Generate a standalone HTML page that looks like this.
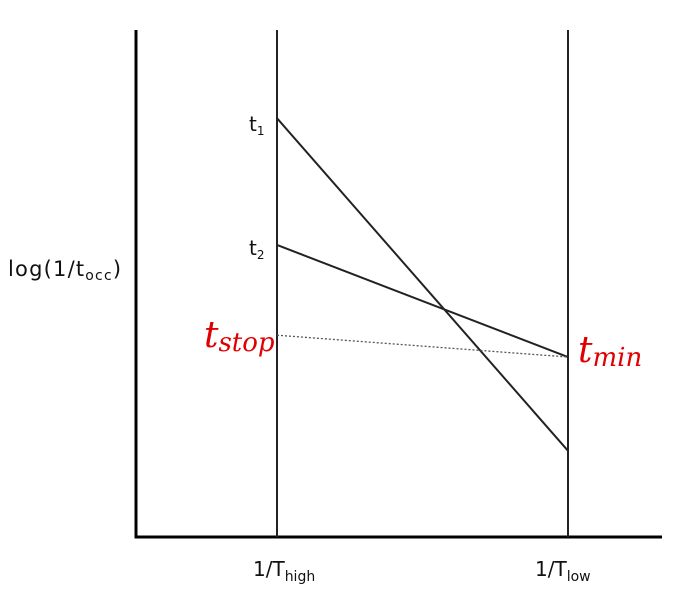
<!DOCTYPE html>
<html><head><meta charset="utf-8"><style>
body{margin:0;background:#fff;width:685px;height:590px;overflow:hidden}
svg{display:block}
text{font-family:"DejaVu Sans","Liberation Sans",sans-serif;fill:#111}
.red{font-family:"DejaVu Serif","Liberation Serif",serif;font-style:italic;fill:#e00000}
</style></head><body>
<svg id="c" width="685" height="590"></svg>
<script>
const xCats=["high","low"];
const series=["t1","t2","stop"];
const startVals=[8.26,5.76,3.98];
const endVals=[1.70,3.55,3.55];
const yMin=0,yMax=10;
const X0=136,X1=662,Y0=537,Y1=30;
const xPos=[277,568];
function ys(v){return Y0-(v-yMin)/(yMax-yMin)*(Y0-Y1);}
function xs(i){return xPos[i];}
const svg=document.getElementById('c');
const NS="http://www.w3.org/2000/svg";
function mk(tag,attrs,name){const e=document.createElementNS(NS,tag);for(const k in attrs)e.setAttribute(k,attrs[k]);


svg.appendChild(e);return e;}
mk('line',{x1:X0,y1:Y1,x2:X0,y2:Y0+1.5,stroke:'#000','stroke-width':3},'y-axis');
mk('line',{x1:X0-1.5,y1:Y0,x2:X1,y2:Y0,stroke:'#000','stroke-width':3},'x-axis');
xCats.forEach((c,i)=>{mk('line',{x1:xs(i),y1:Y1,x2:xs(i),y2:Y0,stroke:'#222','stroke-width':2},'vertical-line-'+c);});
series.forEach((s,i)=>{
  const a={x1:xs(0),y1:ys(startVals[i]),x2:xs(1),y2:ys(endVals[i]),stroke:'#222','stroke-width':s==='stop'?1.3:2};
  if(s==='stop'){a['stroke-dasharray']='2,2';a.stroke='#555';}
  mk('line',a,'series-line-'+s);
});
function txt(x,y,html,name,cls,size){const t=mk('text',{x:x,y:y,'font-size':size||18},name);if(cls)t.setAttribute('class',cls);t.innerHTML=html;return t;}
txt(249,ys(startVals[0])+13,'t<tspan font-size="12" dy="4">1</tspan>','label-t1',null,20);
txt(249,ys(startVals[1])+10,'t<tspan font-size="12" dy="4">2</tspan>','label-t2',null,20);
txt(8,276,'log(1/t<tspan font-size="14" dy="4">occ</tspan><tspan dy="-4">)</tspan>','y-axis-title',null,21).setAttribute('letter-spacing','1.2');
txt(253,576,'1/T<tspan font-size="14" dy="5">high</tspan>','x-label-high',null,20);
txt(535,576,'1/T<tspan font-size="14" dy="5">low</tspan>','x-label-low',null,20);
txt(204,347,'t<tspan font-size="26" dy="4">stop</tspan>','label-tstop','red',36);
txt(578,362,'t<tspan font-size="26" dy="4">min</tspan>','label-tmin','red',36);
</script>
</body></html>
